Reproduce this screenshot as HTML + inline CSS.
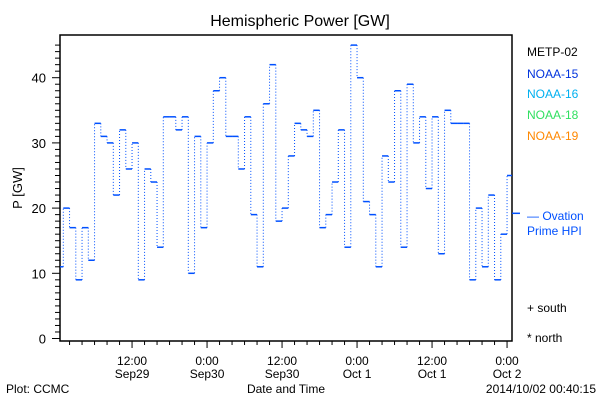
<!DOCTYPE html>
<html><head><meta charset="utf-8"><style>
body{margin:0;background:#fff;}
svg{display:block;font-family:"Liberation Sans",sans-serif;}
</style></head><body>
<svg id="chart" width="600" height="400" viewBox="0 0 600 400">
<rect x="0" y="0" width="600" height="400" fill="#fff"/>
<text x="300" y="26" text-anchor="middle" font-size="16" fill="#000">Hemispheric Power [GW]</text>
<rect x="60" y="35" width="452" height="306" fill="none" stroke="#000" stroke-width="1.5"/>
<g id="yaxis"></g>
<g id="xaxis"></g>
<g id="series"></g>
<text x="22" y="188" text-anchor="middle" font-size="13" transform="rotate(-90 22 188)">P [GW]</text>
<text x="286" y="393" text-anchor="middle" font-size="12">Date and Time</text>
<text x="6" y="393" font-size="12">Plot: CCMC</text>
<text x="596" y="393" text-anchor="end" font-size="12">2014/10/02 00:40:15</text>
<g font-size="12">
<text x="527" y="56" fill="#000">METP-02</text>
<text x="527" y="78" fill="#0033dd">NOAA-15</text>
<text x="527" y="98" fill="#00b0f0">NOAA-16</text>
<text x="527" y="119" fill="#30e060">NOAA-18</text>
<text x="527" y="140" fill="#ff8800">NOAA-19</text>
<text x="527" y="220" fill="#0050ff">— Ovation</text>
<text x="527" y="235" fill="#0050ff">Prime HPI</text>
<text x="527" y="312" fill="#000">+ south</text>
<text x="527" y="342" fill="#000">* north</text>
</g>
</svg>
<script>
const hourValues = [11,20,17,9,17,12,33,31,30,22,32,26,30,9,26,24,14,34,34,32,34,10,31,17,30,38,40,31,31,26,34,19,11,36,42,18,20,28,33,32,31,35,17,19,24,32,14,45,40,21,19,11,28,24,38,14,39,30,34,23,34,13,35,33,33,33,9,20,11,22,9,16,25];
const yTicks = [0,10,20,30,40];
const xTickHours = [12,24,36,48,60,72];
const xTickLabels = [["12:00","Sep29"],["0:00","Sep30"],["12:00","Sep30"],["0:00","Oct 1"],["12:00","Oct 1"],["0:00","Oct 2"]];
const ovationValue = [19.2];

const NS="http://www.w3.org/2000/svg";
const X0=60,X1=512;
function xs(h){return 57.05+6.25*h;}
function ys(v){return 338.5-6.52*v;}
function mk(tag,attrs,parent){const e=document.createElementNS(NS,tag);for(const k in attrs)e.setAttribute(k,attrs[k]);parent.appendChild(e);return e;}
const yax=document.getElementById('yaxis'),xax=document.getElementById('xaxis'),ser=document.getElementById('series');
for(let v=0;v<=45;v++){
  const t=mk('line',{x1:X0-(v%10===0?8:5),x2:X0,y1:ys(v),y2:ys(v),stroke:'#000','stroke-width':1},yax);
  
  
}
yTicks.forEach(v=>{
  const t=mk('text',{x:X0-14,y:ys(v)+5,'text-anchor':'end','font-size':13},yax);
  t.textContent=v;
  
  
});
for(let h=2;h<=72;h+=2){
  const x=xs(h);if(x<X0||x>X1)continue;
  const t=mk('line',{x1:x,x2:x,y1:341,y2:341+(h%12===0?7:4),stroke:'#000','stroke-width':1},xax);
  
  
}
xTickHours.forEach((h,i)=>{
  const t=mk('text',{x:xs(h),y:365,'text-anchor':'middle','font-size':12},xax);
  t.textContent=xTickLabels[i][0];
  
  
  const t2=mk('text',{x:xs(h),y:378,'text-anchor':'middle','font-size':12},xax);
  t2.textContent=xTickLabels[i][1];
  
  
});
const col='#0050ff';
hourValues.forEach((v,i)=>{
  const xa=Math.max(X0,xs(i)),xb=Math.min(X1,xs(i+1));
  const s=mk('line',{x1:xa,x2:xb,y1:ys(v),y2:ys(v),stroke:col,'stroke-width':1.5},ser);
  
  
  if(i>0){
    const d=mk('line',{x1:xs(i),x2:xs(i),y1:ys(hourValues[i-1]),y2:ys(v),stroke:col,'stroke-width':1,'stroke-dasharray':'1 2'},ser);
    
    
  }
});
const ov=mk('line',{x1:X1,x2:X1+8,y1:ys(ovationValue[0]),y2:ys(ovationValue[0]),stroke:col,'stroke-width':1.5},ser);


</script>
</body></html>
